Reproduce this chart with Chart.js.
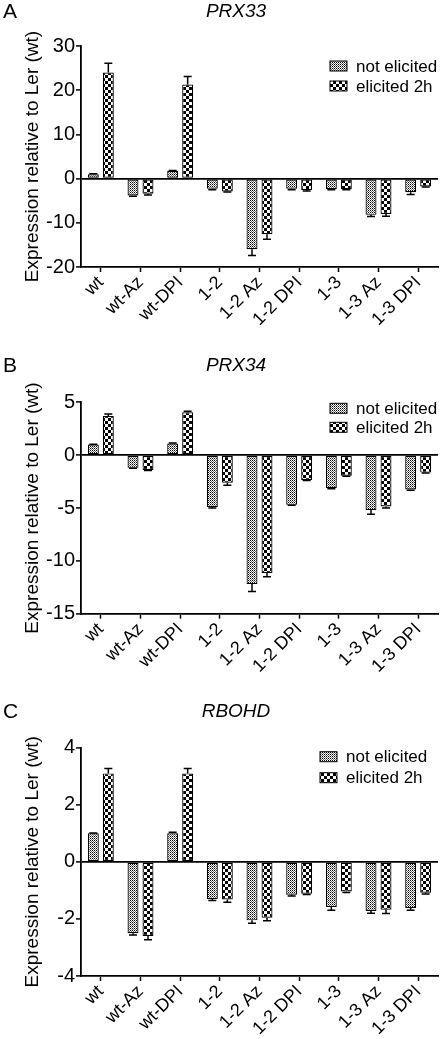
<!DOCTYPE html>
<html>
<head>
<meta charset="utf-8">
<script src="https://cdn.jsdelivr.net/npm/chart.js@4.4.0/dist/chart.umd.min.js"></script>
<style>
  html, body { margin: 0; padding: 0; background: #fff; }
  #wrap { position: relative; width: 442px; height: 1039px; }
  canvas { position: absolute; left: 0; }
</style>
</head>
<body>
<div id="wrap">
  <canvas id="chartA" width="442" height="346" style="top:0px"></canvas>
  <canvas id="chartB" width="442" height="346" style="top:346px"></canvas>
  <canvas id="chartC" width="442" height="347" style="top:692px"></canvas>
</div>
<script>
// ---- data ----
const categories = ['wt', 'wt-Az', 'wt-DPI', '1-2', '1-2 Az', '1-2 DPI', '1-3', '1-3 Az', '1-3 DPI'];
const seriesNames = ['not elicited', 'elicited 2h'];

// PRX33
const prx33Not = [1.0, -3.8, 1.7, -2.3, -16.0, -2.3, -2.4, -8.2, -3.1];
const prx33NotErr = [0.1, 0.2, 0.15, 0.2, 1.4, 0.2, 0.15, 0.4, 0.5];
const prx33Eli = [24.0, -3.4, 21.3, -2.9, -12.6, -2.6, -2.4, -8.0, -1.8];
const prx33EliErr = [2.1, 0.3, 1.8, 0.15, 1.1, 0.2, 0.15, 0.5, 0.1];
const prx33Ticks = [-20, -10, 0, 10, 20, 30];

// PRX34
const prx34Not = [1.0, -1.2, 1.1, -4.9, -12.2, -4.7, -3.1, -5.2, -3.25];
const prx34NotErr = [0.03, 0.05, 0.05, 0.1, 0.7, 0.05, 0.08, 0.4, 0.08];
const prx34Eli = [3.7, -1.4, 4.05, -2.6, -11.15, -2.35, -1.95, -4.85, -1.65];
const prx34EliErr = [0.2, 0.05, 0.1, 0.25, 0.35, 0.05, 0.05, 0.15, 0.05];
const prx34Ticks = [-15, -10, -5, 0, 5];

// RBOHD
const rbohdNot = [1.0, -2.5, 1.0, -1.3, -2.05, -1.15, -1.58, -1.72, -1.62];
const rbohdNotErr = [0.01, 0.06, 0.04, 0.05, 0.1, 0.05, 0.12, 0.08, 0.08];
const rbohdEli = [3.1, -2.6, 3.1, -1.32, -1.96, -1.12, -1.04, -1.68, -1.08];
const rbohdEliErr = [0.17, 0.13, 0.17, 0.1, 0.1, 0.02, 0.03, 0.13, 0.05];
const rbohdTicks = [-4, -2, 0, 2, 4];

const FONT = "'Liberation Sans', Arial, sans-serif";

// ---- fill patterns ----
function makePattern(size, sq, dark, dark2) {
    const c = document.createElement('canvas');
    c.width = size; c.height = size;
    const g = c.getContext('2d');
    g.fillStyle = '#fff';
    g.fillRect(0, 0, size, size);
    g.fillStyle = dark;
    g.fillRect(0, 0, sq, sq);
    g.fillStyle = dark2;
    g.fillRect(sq, sq, sq, sq);
    return g.createPattern(c, 'repeat');
}
const fineFill = makePattern(2, 1, '#000', '#707070');
const coarseFill = makePattern(6, 3, '#000', '#000');
const fills = [fineFill, coarseFill];

// ---- plugin: error bars, title, panel letter, legend ----
const decorPlugin = {
    id: 'decor',
    afterDatasetsDraw(chart) {
        const ctx = chart.ctx;
        const y = chart.scales.y;
        ctx.save();
        ctx.strokeStyle = '#000';
        ctx.lineWidth = 1.5;
        chart.data.datasets.forEach((ds, di) => {
            const meta = chart.getDatasetMeta(di);
            meta.data.forEach((bar, i) => {
                const v = ds.data[i];
                const e = ds.errors[i];
                const end = y.getPixelForValue(v + (v >= 0 ? e : -e));
                ctx.beginPath();
                ctx.moveTo(bar.x, bar.y);
                ctx.lineTo(bar.x, end);
                ctx.moveTo(bar.x - 4, end);
                ctx.lineTo(bar.x + 4, end);
                ctx.stroke();
            });
        });
        ctx.restore();
    },
    afterDraw(chart, args, opts) {
        const ctx = chart.ctx;
        ctx.save();
        ctx.fillStyle = '#000';
        ctx.textBaseline = 'middle';
        // panel letter
        ctx.font = '21px ' + FONT;
        ctx.textAlign = 'left';
        ctx.fillText(opts.letter, 3, opts.headY);
        // gene title
        ctx.font = 'italic 19px ' + FONT;
        ctx.textAlign = 'center';
        ctx.fillText(opts.gene, 236, opts.headY);
        // legend
        ctx.font = '17px ' + FONT;
        ctx.textAlign = 'left';
        seriesNames.forEach((name, k) => {
            const ly = chart.chartArea.top + opts.legendY[k];
            ctx.fillStyle = fills[k];
            ctx.fillRect(opts.legendX, ly - 5, 17, 10);
            ctx.strokeStyle = '#000';
            ctx.lineWidth = 1;
            ctx.strokeRect(opts.legendX, ly - 5, 17, 10);
            ctx.fillStyle = '#000';
            ctx.fillText(name, opts.legendX + 26, ly + 1);
        });
        ctx.restore();
    }
};

function makePanel(id, p) {
    const canvas = document.getElementById(id);
    return new Chart(canvas.getContext('2d'), {
        type: 'bar',
        data: {
            labels: categories,
            datasets: [
                { label: seriesNames[0], data: p.notEl, errors: p.notErr, backgroundColor: fineFill,
                  borderColor: '#000', borderWidth: 1.2, borderSkipped: false },
                { label: seriesNames[1], data: p.eli, errors: p.eliErr, backgroundColor: coarseFill,
                  borderColor: '#000', borderWidth: 1.2, borderSkipped: false }
            ]
        },
        options: {
            responsive: false,
            animation: false,
            events: [],
            categoryPercentage: 0.756,
            barPercentage: 0.73,
            layout: { padding: { top: p.top, right: 4, left: 0, bottom: 0 } },
            plugins: {
                legend: { display: false },
                tooltip: { enabled: false },
                decor: { letter: p.letter, gene: p.gene, headY: p.headY, legendX: p.legendX, legendY: p.legendY }
            },
            scales: {
                x: {
                    afterFit(scale) { scale.height = canvas.height - p.bottom; },
                    grid: { drawOnChartArea: false, offset: false, tickLength: 5, tickColor: '#000', tickWidth: 1.5 },
                    border: { color: '#000', width: 1.8 },
                    ticks: { autoSkip: false, minRotation: 45, maxRotation: 45, padding: 0,
                             color: '#000', font: { family: FONT, size: 18 } }
                },
                y: {
                    min: p.ticks[0],
                    max: p.ticks[p.ticks.length - 1],
                    afterFit(scale) { scale.width = 81; },
                    afterBuildTicks(scale) { scale.ticks = p.ticks.map(v => ({ value: v })); },
                    grid: {
                        drawOnChartArea: true,
                        color: c => (c.tick && c.tick.value === 0 ? '#000' : 'rgba(0,0,0,0)'),
                        lineWidth: 1.8,
                        tickLength: 5, tickColor: '#000', tickWidth: 1.5
                    },
                    border: { color: '#000', width: 1.8 },
                    ticks: { padding: 1, color: '#000', font: { family: FONT, size: 20 } },
                    title: { display: true, text: 'Expression relative to Ler (wt)', color: '#000',
                             font: { family: FONT, size: 19 }, padding: { top: 21, bottom: 0 } }
                }
            }
        },
        plugins: [decorPlugin]
    });
}

makePanel('chartA', { letter: 'A', gene: 'PRX33', headY: 12, top: 46, bottom: 267,
    legendX: 330, legendY: [20, 40],
    notEl: prx33Not, notErr: prx33NotErr, eli: prx33Eli, eliErr: prx33EliErr, ticks: prx33Ticks });
makePanel('chartB', { letter: 'B', gene: 'PRX34', headY: 20, top: 56.3, bottom: 267.7,
    legendX: 330, legendY: [6, 25],
    notEl: prx34Not, notErr: prx34NotErr, eli: prx34Eli, eliErr: prx34EliErr, ticks: prx34Ticks });
makePanel('chartC', { letter: 'C', gene: 'RBOHD', headY: 20, top: 55.7, bottom: 284,
    legendX: 320, legendY: [9, 30],
    notEl: rbohdNot, notErr: rbohdNotErr, eli: rbohdEli, eliErr: rbohdEliErr, ticks: rbohdTicks });
</script>
</body>
</html>
